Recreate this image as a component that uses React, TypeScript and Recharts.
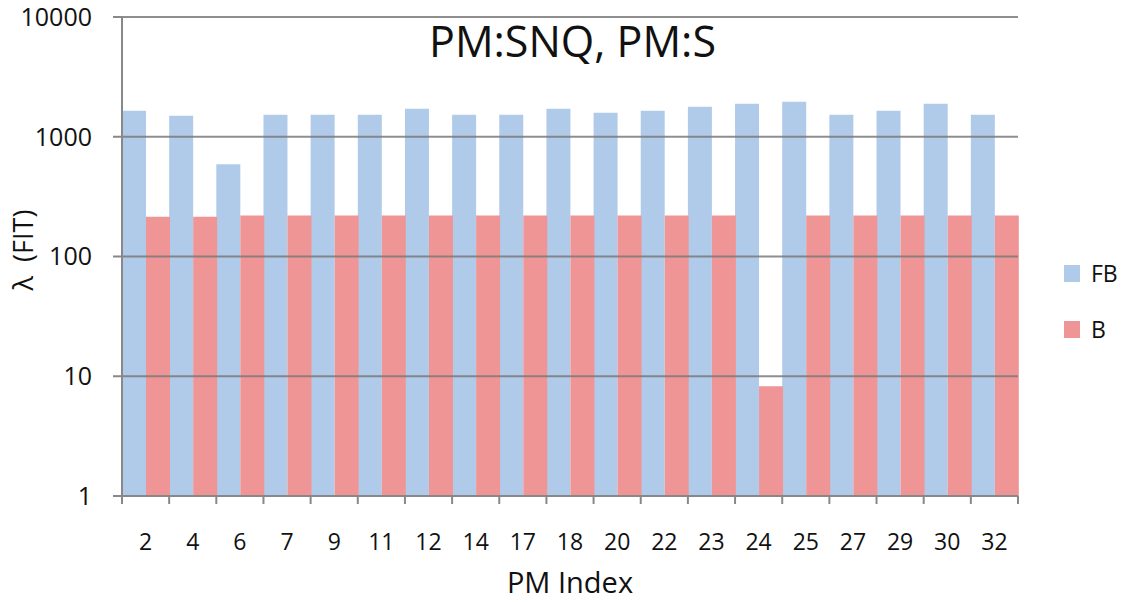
import { BarChart, Bar, XAxis, YAxis, ReferenceLine } from 'recharts';

const pmIndex = ['2', '4', '6', '7', '9', '11', '12', '14', '17', '18', '20', '22', '23', '24', '25', '27', '29', '30', '32'];
const fbValues = [1650, 1500, 590, 1530, 1530, 1530, 1710, 1530, 1530, 1710, 1590, 1650, 1780, 1890, 1960, 1530, 1650, 1890, 1530];
const bValues = [215, 215, 220, 220, 220, 220, 220, 220, 220, 220, 220, 220, 220, 8.25, 220, 220, 220, 220, 220];
const yTicks = [1, 10, 100, 1000, 10000];
const gridValues = [10, 100, 1000, 10000];

const series = [
  { key: 'FB', color: '#B0CBE9' },
  { key: 'B', color: '#F09595' },
];

const WIDTH = 1125;
const HEIGHT = 602;
const MARGIN = { top: 17, right: 107, bottom: 0, left: 0 };
const Y_AXIS_W = 122;
const X_AXIS_H = 106;
const FONT = '"Open Sans", "Liberation Sans", sans-serif';
const AXIS_GREY = '#888888';

const plotWidth = WIDTH - MARGIN.left - MARGIN.right - Y_AXIS_W;
const band = plotWidth / pmIndex.length;

const data = pmIndex.map((pm, i) => ({ pm, FB: fbValues[i], B: bValues[i] }));

// category label plus a tick mark on the boundary between categories
function PmTick(props: any) {
  const { x, y, payload, index } = props;
  const left = x - band / 2;
  const right = x + band / 2;
  return (
    <g>
      <line x1={left} x2={left} y1={y} y2={y + 8} stroke={AXIS_GREY} strokeWidth={2} />
      {index === pmIndex.length - 1 && (
        <line x1={right} x2={right} y1={y} y2={y + 8} stroke={AXIS_GREY} strokeWidth={2} />
      )}
      <text x={x} y={y + 45} textAnchor="middle" dominantBaseline="central" fontSize={23} fontFamily={FONT} fill="#111">
        {payload.value}
      </text>
    </g>
  );
}

export default function App() {
  return (
    <div style={{ position: 'absolute', left: 0, top: 0, width: WIDTH, height: HEIGHT, background: '#fff', fontFamily: FONT }}>
      <BarChart width={WIDTH} height={HEIGHT} data={data} margin={MARGIN} barCategoryGap={0} barGap={0}>
        <XAxis
          dataKey="pm"
          height={X_AXIS_H}
          tickLine={false}
          tickSize={0}
          tickMargin={0}
          interval={0}
          axisLine={{ stroke: AXIS_GREY, strokeWidth: 2 }}
          tick={<PmTick />}
        />
        <YAxis
          type="number"
          scale="log"
          domain={[1, 10000]}
          ticks={yTicks}
          allowDataOverflow
          width={Y_AXIS_W}
          tickSize={9}
          tickMargin={21}
          axisLine={{ stroke: AXIS_GREY, strokeWidth: 2 }}
          tickLine={{ stroke: AXIS_GREY, strokeWidth: 2 }}
          tick={{ fontSize: 25, fontFamily: FONT, fill: '#111' }}
        />
        {series.map((s) => (
          <Bar key={s.key} dataKey={s.key} fill={s.color} isAnimationActive={false} />
        ))}
        {gridValues.map((v) => (
          <ReferenceLine key={v} y={v} stroke="#7a7a7a" strokeOpacity={0.85} strokeWidth={2} />
        ))}
      </BarChart>

      <div style={{ position: 'absolute', left: 0, width: 1145, top: 15, textAlign: 'center', fontSize: 43, lineHeight: '52px', color: '#111' }}>
        PM:SNQ, PM:S
      </div>

      <div style={{ position: 'absolute', left: 122, width: 896, top: 562, textAlign: 'center', fontSize: 29, lineHeight: '40px', color: '#111' }}>
        PM Index
      </div>

      <div
        style={{
          position: 'absolute',
          left: 22,
          top: 250,
          transform: 'translate(-50%, -50%) rotate(-90deg)',
          whiteSpace: 'nowrap',
          fontSize: 27,
          color: '#111',
        }}
      >
        λ&nbsp;&nbsp;(FIT)
      </div>

      {series.map((s, i) => (
        <div key={s.key} style={{ position: 'absolute', left: 1064, top: 257 + i * 56, display: 'flex', alignItems: 'center', fontSize: 23, color: '#111' }}>
          <span style={{ display: 'inline-block', width: 16, height: 17, background: s.color, marginRight: 11 }} />
          {s.key}
        </div>
      ))}
    </div>
  );
}
